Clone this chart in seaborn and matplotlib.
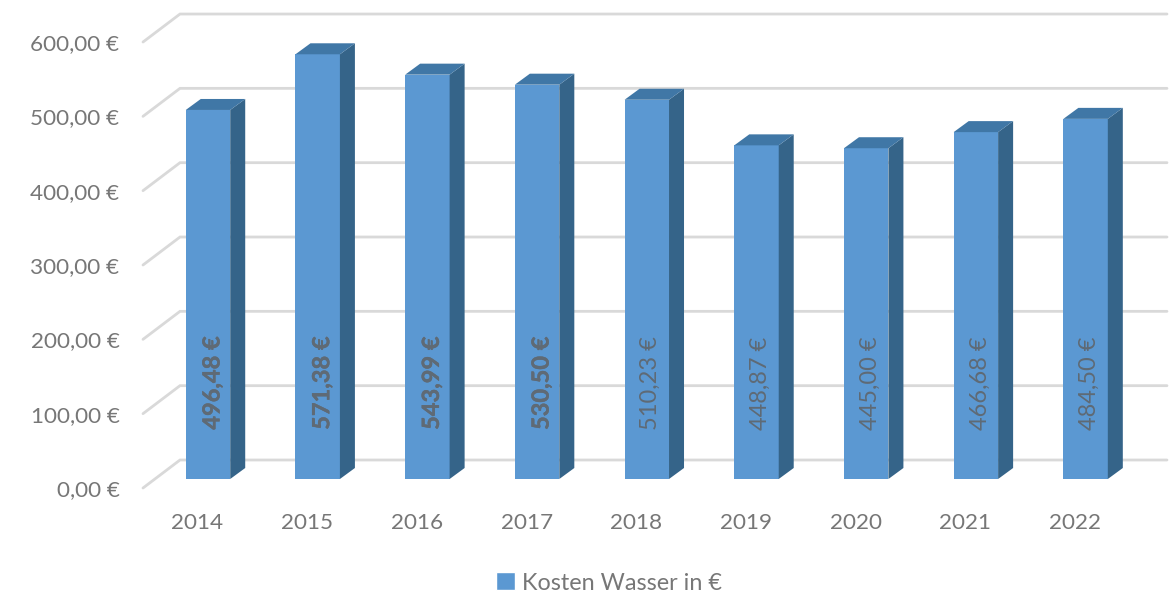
import pandas as pd
import numpy as np
import matplotlib
matplotlib.use("Agg")
import matplotlib.pyplot as plt
import matplotlib.patheffects as pe
import seaborn as sns
from matplotlib.patches import Patch, Polygon
from matplotlib.transforms import ScaledTranslation

# Werte
jahre = ["2014", "2015", "2016", "2017", "2018", "2019", "2020", "2021", "2022"]
kosten = [496.48, 571.38, 543.99, 530.50, 510.23, 448.87, 445.00, 466.68, 484.50]
labels = ["496,48 €", "571,38 €", "543,99 €", "530,50 €", "510,23 €", "448,87 €", "445,00 €", "466,68 €", "484,50 €"]
fett = [True, True, True, True, False, False, False, False, False]
y_werte = [0, 100, 200, 300, 400, 500, 600]
y_labels = ["0,00 €", "100,00 €", "200,00 €", "300,00 €", "400,00 €", "500,00 €", "600,00 €"]

W, H = 1173, 596
GRAU = "#777777"
BLAU = "#5b98d2"
SEITE = "#356489"
OBEN = "#4077a6"
GRID = "#d9d9d9"
LABEL = "#5f6a75"

sns.set_theme(style="white")
plt.rcParams["font.family"] = ["Lato", "DejaVu Sans"]

fig = plt.figure(figsize=(W / 100, H / 100), dpi=100)
ax = fig.add_axes([143 / W, (H - 479) / H, 1024 / W, 465 / H])

df = pd.DataFrame({"Jahr": jahre, "Kosten": kosten})
sns.barplot(data=df, x="Jahr", y="Kosten", color=BLAU, saturation=1, width=0.405, ax=ax, zorder=3,
            linewidth=0, edgecolor="none")

# Skalen: Pixel pro Einheit
px_y = 0.7433
px_x = 109.7
ax.set_ylim(0, 465 / px_y)
ax.set_xlim(-65 / px_x, -65 / px_x + 1024 / px_x)
dx_tief, dy_tief = 15 / px_x, 11 / px_y

# Rueckwand und Seitenwand
x0 = ax.get_xlim()[0]
x_back = x0 + 37 / px_x
x_end = ax.get_xlim()[1]
for v in y_werte:
    y_back = v + 19 / px_y
    y_front = v - 9 / px_y
    ax.plot([x0, x_back, x_end], [y_front, y_back, y_back], color=GRID, lw=2.0,
            zorder=1, clip_on=False, solid_joinstyle="miter")

# 3D-Flaechen an den Balken
for bar, text, bold in zip(ax.patches, labels, fett):
    x, w, h = bar.get_x(), bar.get_width(), bar.get_height()
    ax.add_patch(Polygon([(x + w, 0), (x + w + dx_tief, dy_tief), (x + w + dx_tief, h + dy_tief), (x + w, h)],
                         closed=True, fc=SEITE, ec="none", zorder=3))
    ax.add_patch(Polygon([(x, h), (x + dx_tief, h + dy_tief), (x + w + dx_tief, h + dy_tief), (x + w, h)],
                         closed=True, fc=OBEN, ec="none", zorder=3))
    t = ax.text(x + w / 2 + 4 / px_x, 129, text, rotation=90, ha="center", va="center",
                fontsize=17, color=LABEL, fontweight="bold" if bold else "normal", zorder=4)
    # Lato Bold wirkt zu duenn, deshalb leicht nachziehen
    if bold:
        t.set_path_effects([pe.withStroke(linewidth=0.3, foreground=LABEL)])

ax.set_xlabel("")
ax.set_ylabel("")
ax.set_yticks(y_werte)
ax.set_yticklabels(y_labels)
ax.tick_params(axis="both", length=0, labelsize=16.2, labelcolor=GRAU)
ax.tick_params(axis="y", pad=17)
ax.tick_params(axis="x", pad=24.5)
for lab in ax.get_yticklabels():
    lab.set_transform(lab.get_transform() + ScaledTranslation(0, -9 / 100, fig.dpi_scale_trans))
for lab in ax.get_xticklabels():
    lab.set_transform(lab.get_transform() + ScaledTranslation(-10.5 / 100, 0, fig.dpi_scale_trans))
sns.despine(ax=ax, left=True, bottom=True)

griff = Patch(facecolor=BLAU, label="Kosten Wasser in €")
fig.legend(handles=[griff], loc="center", bbox_to_anchor=(609 / W, (H - 583) / H), frameon=False,
           fontsize=16.8, labelcolor=GRAU, handlelength=0.8, handleheight=0.8, handletextpad=0.3)

fig.savefig("out.png", dpi=100)
